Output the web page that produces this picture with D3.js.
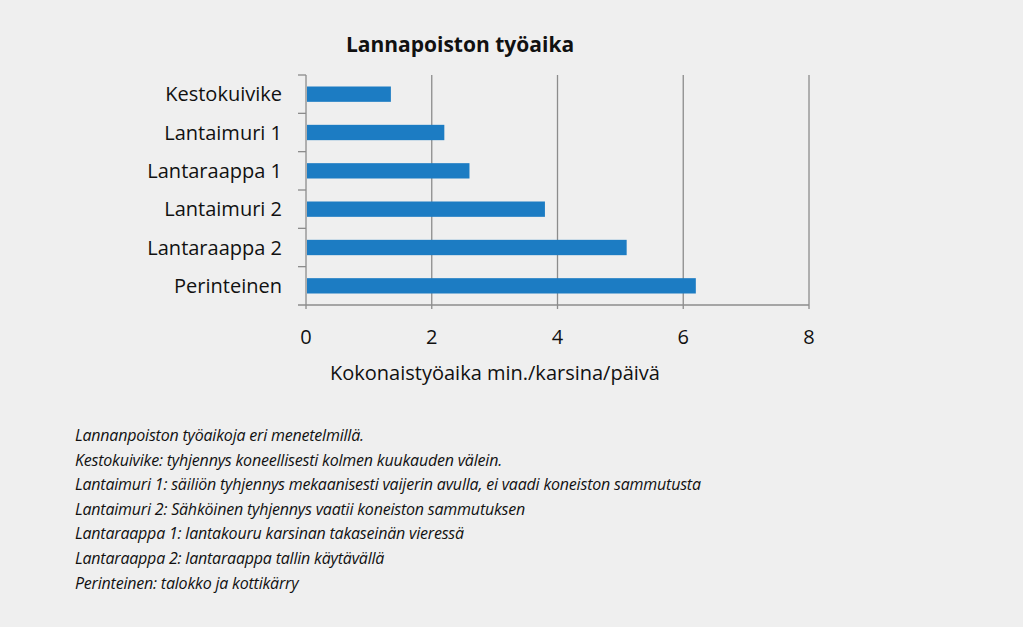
<!DOCTYPE html>
<html><head><meta charset="utf-8">
<script src="https://cdn.jsdelivr.net/npm/d3@7"></script>
<style>body{margin:0;background:#efefef;}</style>
</head><body>
<svg id="chart" width="1023" height="627"></svg>
<script>
var categories = ["Kestokuivike", "Lantaimuri 1", "Lantaraappa 1", "Lantaimuri 2", "Lantaraappa 2", "Perinteinen"];
var values = [1.35, 2.2, 2.6, 3.8, 5.1, 6.2];
var xTicks = [0, 2, 4, 6, 8];
var notes = [
  "Lannanpoiston työaikoja eri menetelmillä.",
  "Kestokuivike: tyhjennys koneellisesti kolmen kuukauden välein.",
  "Lantaimuri 1: säiliön tyhjennys mekaanisesti vaijerin avulla, ei vaadi koneiston sammutusta",
  "Lantaimuri 2: Sähköinen tyhjennys vaatii koneiston sammutuksen",
  "Lantaraappa 1: lantakouru karsinan takaseinän vieressä",
  "Lantaraappa 2: lantaraappa tallin käytävällä",
  "Perinteinen: talokko ja kottikärry"
];

var svg = d3.select("#chart");
var font = "'Open Sans', 'DejaVu Sans', sans-serif";
var plotLeft = 306, plotRight = 809, plotTop = 75, plotBottom = 305;

var x = d3.scaleLinear().domain([0, 8]).range([plotLeft, plotRight]);
var y = d3.scaleBand().domain(categories).range([plotTop, plotBottom]).paddingInner(0.6).paddingOuter(0.3);
var yb = d3.scaleBand().domain(categories).range([plotTop, plotBottom]);

// gridlines
svg.append("g").selectAll("line").data(xTicks).enter().append("line")
    .attr("x1", d => x(d)).attr("x2", d => x(d))
    .attr("y1", plotTop).attr("y2", plotBottom + 4)
    .attr("stroke", "#8c8c8c").attr("stroke-width", 1.3);

// x axis line
svg.append("line").attr("x1", plotLeft - 8).attr("x2", plotRight).attr("y1", plotBottom).attr("y2", plotBottom)
    .attr("stroke", "#8c8c8c").attr("stroke-width", 1.3);

// y tick marks at band boundaries
svg.append("g").selectAll("line").data(categories).enter().append("line")
    .attr("x1", plotLeft - 8).attr("x2", plotLeft)
    .attr("y1", d => yb(d)).attr("y2", d => yb(d))
    .attr("stroke", "#8c8c8c").attr("stroke-width", 1.3);

// bars
svg.append("g").selectAll("rect").data(values).enter().append("rect")
    .attr("x", x(0) + 1)
    .attr("y", (d, i) => y(categories[i]))
    .attr("width", d => x(d) - x(0) - 1)
    .attr("height", y.bandwidth())
    .attr("fill", "#1c7cc3");

// labels
svg.append("g").selectAll("text").data(categories).enter().append("text")
    .attr("x", plotLeft - 24)
    .attr("y", d => y(d) + y.bandwidth() / 2)
    .attr("dy", "0.35em")
    .attr("text-anchor", "end")
    .attr("font-family", font).attr("font-size", 20).attr("fill", "#111")
    .text(d => d);

svg.append("g").selectAll("text").data(xTicks).enter().append("text")
    .attr("x", d => x(d)).attr("y", 344)
    .attr("text-anchor", "middle")
    .attr("font-family", font).attr("font-size", 20).attr("fill", "#111")
    .text(d => d);

svg.append("text").attr("x", 495).attr("y", 380).attr("text-anchor", "middle")
    .attr("font-family", font).attr("font-size", 20).attr("fill", "#111")
    .text("Kokonaistyöaika min./karsina/päivä");

svg.append("text").attr("x", 460).attr("y", 52).attr("text-anchor", "middle")
    .attr("font-family", font).attr("font-size", 21).attr("font-weight", "bold").attr("fill", "#111")
    .text("Lannapoiston työaika");

svg.append("g").selectAll("text").data(notes).enter().append("text")
    .attr("x", 75).attr("y", (d, i) => 441 + i * 24.6)
    .attr("font-family", font).attr("font-size", 16).attr("font-style", "italic")
    .attr("letter-spacing", "-0.2").attr("fill", "#111")
    .text(d => d);
</script>
</body></html>
